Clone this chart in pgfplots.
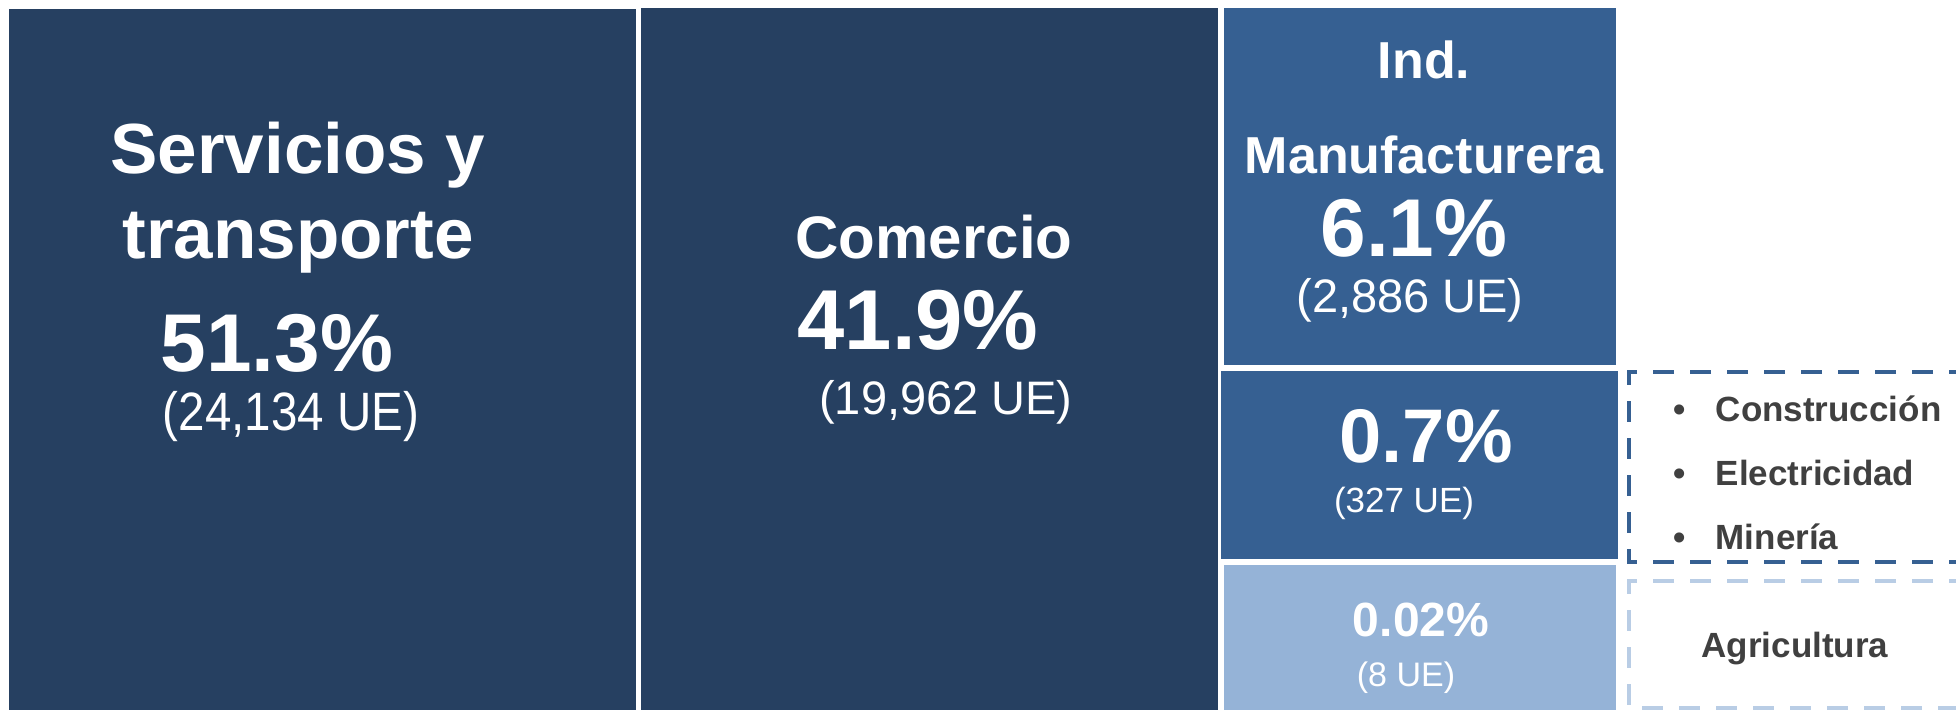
\documentclass[border=0pt]{standalone}
\usepackage{pgfplots}
\pgfplotsset{compat=1.18}
\usepackage{fontspec}
\setmainfont{Liberation Sans}
\definecolor{navy}{RGB}{38,64,97}
\definecolor{midblue}{RGB}{54,96,146}
\definecolor{lightblue}{RGB}{149,179,215}
\definecolor{dashlight}{RGB}{185,205,229}
\definecolor{txtgray}{RGB}{64,64,64}

% font size in px of the 1956x710 reference (1px = 0.25pt)
\newcommand{\fs}[1]{\fontsize{\dimexpr#1pt/4\relax}{\dimexpr#1pt/4\relax}\selectfont}

\begin{document}
\begin{tikzpicture}
\begin{axis}[
  scale only axis, width=489pt, height=177.5pt,
  xmin=0, xmax=1956, ymin=0, ymax=710, y dir=reverse,
  hide axis, clip=true,
]
% treemap tiles (pixel layout, top-left origin)
\addplot[fill=navy, draw=none] coordinates {(9,9) (636,9) (636,710) (9,710)} -- cycle;
\addplot[fill=navy, draw=none] coordinates {(641,8) (1218,8) (1218,710) (641,710)} -- cycle;
\addplot[fill=midblue, draw=none] coordinates {(1224,8) (1616,8) (1616,365) (1224,365)} -- cycle;
\addplot[fill=midblue, draw=none] coordinates {(1221,371) (1618,371) (1618,559) (1221,559)} -- cycle;
\addplot[fill=lightblue, draw=none] coordinates {(1224,565) (1616,565) (1616,710) (1224,710)} -- cycle;
% dashed side boxes
\addplot[draw=midblue, line width=1pt, dash pattern=on 5.25pt off 4pt] coordinates {(1970,372) (1629,372) (1629,562) (1970,562)};
\addplot[draw=dashlight, line width=1pt, dash pattern=on 5.25pt off 4pt] coordinates {(1970,581) (1629,581) (1629,708) (1970,708)};

% labels
\begin{scope}[every node/.style={text=white, inner sep=0pt, anchor=base}]
\node[font=\fs{71}\bfseries] at (axis cs:298,173) {Servicios y};
\node[font=\fs{71}\bfseries] at (axis cs:298,258) {transporte};
\node[font=\fs{82}\bfseries] at (axis cs:277,371) {51.3\%};
\node[font=\fs{54}] at (axis cs:291,430) {\scalebox{0.88}[1]{(24,134 UE)}};

\node[font=\fs{60}\bfseries] at (axis cs:934,258) {Comercio};
\node[font=\fs{85}\bfseries] at (axis cs:918,349) {41.9\%};
\node[font=\fs{47}] at (axis cs:946,414) {(19,962 UE)};

\node[font=\fs{52}\bfseries] at (axis cs:1424,78) {Ind.};
\node[font=\fs{52}\bfseries] at (axis cs:1424,173) {Manufacturera};
\node[font=\fs{82}\bfseries] at (axis cs:1414,256) {6.1\%};
\node[font=\fs{47}] at (axis cs:1410,312) {(2,886 UE)};

\node[font=\fs{76}\bfseries] at (axis cs:1426,462) {0.7\%};
\node[font=\fs{35}] at (axis cs:1404,512) {(327 UE)};

\node[font=\fs{48}\bfseries] at (axis cs:1421,636) {0.02\%};
\node[font=\fs{34}] at (axis cs:1406,686) {(8 UE)};
\end{scope}

\begin{scope}[every node/.style={text=txtgray, inner sep=0pt, font=\fs{35}\bfseries}]
\node[anchor=base] at (axis cs:1680,421) {\textbullet};
\node[anchor=base west] at (axis cs:1715,421) {Construcción};
\node[anchor=base] at (axis cs:1680,485) {\textbullet};
\node[anchor=base west] at (axis cs:1715,485) {Electricidad};
\node[anchor=base] at (axis cs:1680,549) {\textbullet};
\node[anchor=base west] at (axis cs:1715,549) {Minería};
\node[anchor=base] at (axis cs:1795,657) {Agricultura};
\end{scope}
\end{axis}
\pgfresetboundingbox
\path[use as bounding box] (current axis.south west) rectangle (current axis.north east);
\end{tikzpicture}
\end{document}
